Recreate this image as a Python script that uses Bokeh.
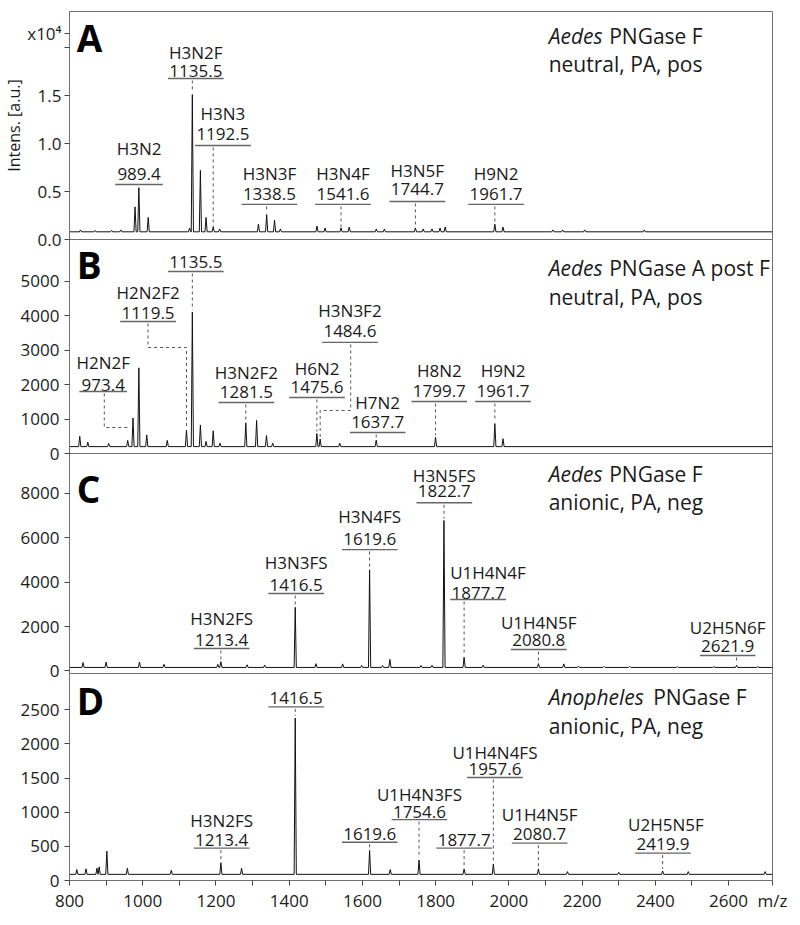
import math
from bokeh.plotting import figure
from bokeh.models import Range1d, FixedTicker, NumeralTickFormatter, BasicTickFormatter, Title
from bokeh.layouts import column
from bokeh.embed import file_html
from bokeh.resources import INLINE
from bokeh.core.properties import value

FONT = "Open Sans"
TXT = "#1a1a1a"
FRAME = "#707070"
X_START, X_END = 800, 2720

# ---------------- spectra (m/z, intensity) ----------------
A_mz = [830, 870, 915, 940, 979, 989.4, 1015, 1128, 1135.5, 1157.5, 1173, 1192.5, 1210,
        1316, 1338.5, 1360, 1376, 1476, 1498, 1541.6, 1564, 1638, 1660,
        1744.7, 1766, 1790, 1812, 1826, 1961.7, 1984, 2120, 2147, 2207, 2370]
A_int = [0.10, 0.095, 0.095, 0.10, 0.34, 0.54, 0.23, 0.12, 1.51, 0.72, 0.23, 0.13, 0.11,
         0.16, 0.26, 0.20, 0.11, 0.14, 0.12, 0.12, 0.13, 0.11, 0.11,
         0.12, 0.11, 0.11, 0.12, 0.13, 0.16, 0.13, 0.10, 0.10, 0.10, 0.10]
A_base = 0.08  # x10^4

B_mz = [828, 850, 907, 959, 973.4, 989.4, 1011, 1067, 1119.5, 1135.5, 1157.5, 1173, 1192.5,
        1211, 1281.5, 1311, 1338, 1355, 1475.6, 1484.6, 1538, 1637.7, 1799.7, 1961.7, 1984]
B_int = [500, 330, 290, 380, 1030, 2490, 540, 380, 680, 4110, 830, 350, 660,
         300, 890, 960, 520, 300, 580, 420, 300, 390, 470, 870, 430]
B_base = 200

C_mz = [837, 900, 991, 1058, 1205, 1213.4, 1285, 1333, 1416.5, 1473, 1546, 1598, 1619.6,
        1655, 1675, 1760, 1790, 1822.7, 1877.7, 1930, 2080.8, 2150, 2190, 2260, 2330,
        2460, 2560, 2621.9, 2680]
C_int = [380, 400, 400, 300, 300, 420, 280, 270, 2870, 330, 320, 250, 4560,
         250, 520, 250, 260, 6780, 620, 260, 330, 320, 220, 210, 210,
         200, 200, 260, 200]
C_base = 160

D_mz = [820, 845, 875, 881, 902, 958, 1078, 1213.4, 1270, 1416.5, 1619.6, 1676, 1754.6,
        1877.7, 1957.6, 2080.7, 2160, 2300, 2419.9, 2490, 2700]
D_int = [160, 170, 180, 200, 430, 180, 150, 260, 180, 2380, 440, 160, 300,
         170, 240, 170, 130, 120, 140, 130, 130]
D_base = 90

# ---------------- annotation texts ----------------
A_names = ["H3N2", "H3N2F", "H3N3", "H3N3F", "H3N4F", "H3N5F", "H9N2"]
A_labels = ["989.4", "1135.5", "1192.5", "1338.5", "1541.6", "1744.7", "1961.7"]
A_targets = [989.4, 1135.5, 1192.5, 1338.5, 1541.6, 1744.7, 1961.7]

B_names = ["H2N2F", "H2N2F2", "", "H3N2F2", "H6N2", "H3N3F2", "H7N2", "H8N2", "H9N2"]
B_labels = ["973.4", "1119.5", "1135.5", "1281.5", "1475.6", "1484.6", "1637.7", "1799.7", "1961.7"]
B_targets = [973.4, 1119.5, 1135.5, 1281.5, 1475.6, 1484.6, 1637.7, 1799.7, 1961.7]

C_names = ["H3N2FS", "H3N3FS", "H3N4FS", "H3N5FS", "U1H4N4F", "U1H4N5F", "U2H5N6F"]
C_labels = ["1213.4", "1416.5", "1619.6", "1822.7", "1877.7", "2080.8", "2621.9"]
C_targets = [1213.4, 1416.5, 1619.6, 1822.7, 1877.7, 2080.8, 2621.9]

D_names = ["", "H3N2FS", "", "U1H4N3FS", "", "U1H4N4FS", "U1H4N5F", "U2H5N5F"]
D_labels = ["1416.5", "1213.4", "1619.6", "1754.6", "1877.7", "1957.6", "2080.7", "2419.9"]
D_targets = [1416.5, 1213.4, 1619.6, 1754.6, 1877.7, 1957.6, 2080.7, 2419.9]

A_ticks = [0, 0.5, 1.0, 1.5, 2.0]
A_scale_tick = 2.146          # where the "x10⁴" multiplier sits
A_scale_text = "x10⁴"
B_ticks = [0, 1000, 2000, 3000, 4000, 5000]
C_ticks = [0, 2000, 4000, 6000, 8000]
D_ticks = [0, 500, 1000, 1500, 2000, 2500]
X_ticks = [800, 1000, 1200, 1400, 1600, 1800, 2000, 2200, 2400, 2600]
X_minor = [900, 1100, 1300, 1500, 1700, 1900, 2100, 2300, 2500]
X_unit = "m/z"
Y_title = "Intens. [a.u.]"

# ---------------- layout of annotations (data coordinates) ----------------
A_lay = dict(name_x=[990, 1145, 1219, 1346, 1547, 1750, 1965],
             num_x=[990, 1145, 1219, 1346, 1547, 1750, 1965],
             name_y=[0.948, 1.948, 1.3125, 0.6875, 0.6875, 0.719, 0.6875],
             num_y=[0.6875, 1.76, 1.104, 0.479, 0.479, 0.521, 0.479],
             ul_y=[0.573, 1.677, 0.979, 0.365, 0.365, 0.396, 0.365],
             dash_end=[0.56, 1.55, 0.125, 0.28, 0.125, 0.125, 0.18], gap=0.02)
B_lay = dict(name_x=[892, 1014.5, 1145, 1283, 1476, 1566, 1641.7, 1810, 1984],
             num_x=[892, 1014.5, 1145, 1283, 1476, 1566, 1641.7, 1810, 1984],
             name_y=[2645, 4680, 0, 2355, 2471, 4157, 1483, 2413, 2413],
             num_y=[1977, 4070, 5552, 1802, 1919, 3547, 930, 1831, 1831],
             ul_y=[1802, 3837, 5290, 1483, 1628, 3227, 610, 1512, 1512],
             dash_end=[0, 0, 4170, 950, 640, 0, 450, 530, 930], gap=58,
             elbows={0: ([895, 895, 963], [1744, 756, 756]),
                     1: ([1014.5, 1014.5, 1119.5, 1119.5], [3779, 3081, 3081, 740]),
                     5: ([1568, 1568, 1484.6, 1484.6], [3169, 1250, 1250, 480])})
C_lay = dict(name_x=[1215.4, 1419, 1620, 1823.6, 1943, 2081.6, 2597.5],
             num_x=[1215.4, 1419, 1620, 1823.6, 1916, 2081.6, 2597.5],
             name_y=[2365, 4888, 6960, 8800, 4437, 2185, 1960],
             num_y=[1374, 3897, 5969, 8110, 3536, 1374, 1104],
             ul_y=[1014, 3491, 5473, 7580, 3221, 969, 698],
             dash_end=[510, 2960, 4650, 6870, 710, 420, 350], gap=90)
D_lay = dict(name_x=[1419, 1215.4, 1620, 1755.8, 1878, 1962, 2084, 2429],
             num_x=[1419, 1215.4, 1620, 1755.8, 1878, 1962, 2084, 2421],
             name_y=[0, 877, 0, 1265, 0, 1882, 963, 819],
             num_y=[2673, 589, 675, 1006, 589, 1638, 675, 532],
             ul_y=[2543, 474, 560, 891, 474, 1509, 546, 402],
             dash_end=[2410, 290, 470, 330, 200, 270, 200, 170], gap=29)

PEAK_HW = 3.0
OVERLAP = 14
xr = Range1d(X_START, X_END)


def spectrum_path(mz, inten, base):
    order = sorted(range(len(mz)), key=lambda i: mz[i])
    xs, ys = [X_START], [base]
    for i in order:
        xs += [mz[i] - PEAK_HW, mz[i], mz[i] + PEAK_HW]
        ys += [base, inten[i], base]
    xs.append(X_END)
    ys.append(base)
    return xs, ys


def make_panel(frame_h, y0, y1, ticks, mbt, mbb, show_x, margin_top, z):
    p = figure(width=792, height=mbt + frame_h + mbb, x_range=xr, y_range=Range1d(y0, y1),
               output_backend="svg", toolbar_location=None,
               x_axis_location="below" if show_x else None,
               min_border_left=65, min_border_right=20,
               min_border_top=mbt, min_border_bottom=mbb)
    if margin_top:
        p.margin = (margin_top, 0, 0, 0)
    p.styles = {"z-index": str(z)}
    p.grid.visible = False
    p.outline_line_color = FRAME
    p.outline_line_width = 1
    p.border_fill_color = None
    p.background_fill_color = None
    ax = p.yaxis[0]
    ax.ticker = FixedTicker(ticks=ticks, minor_ticks=[])
    ax.major_tick_out = 5
    ax.major_tick_in = 0
    ax.axis_line_color = FRAME
    ax.major_tick_line_color = "#444444"
    ax.major_label_text_font = FONT
    ax.major_label_text_font_size = "17px"
    ax.major_label_text_color = TXT
    ax.major_label_standoff = 5
    if show_x:
        xa = p.xaxis[0]
        xa.ticker = FixedTicker(ticks=X_ticks + [X_END], minor_ticks=X_minor)
        xa.formatter = BasicTickFormatter(use_scientific=False)
        xa.major_label_overrides = {X_END: X_unit}
        xa.major_tick_out = 5
        xa.major_tick_in = 0
        xa.minor_tick_out = 5
        xa.minor_tick_in = 0
        xa.axis_line_color = FRAME
        xa.major_tick_line_color = "#444444"
        xa.minor_tick_line_color = "#444444"
        xa.major_label_text_font = FONT
        xa.major_label_text_font_size = "17px"
        xa.major_label_text_color = TXT
        xa.major_label_standoff = 3
    return p


def draw_spectrum(p, mz, inten, base):
    xs, ys = spectrum_path(mz, inten, base)
    p.line(xs, ys, line_color="#111111", line_width=1)


def annotate(p, names, labels, targets, lay):
    nx = [lay["name_x"][i] for i, n in enumerate(names) if n]
    ny = [lay["name_y"][i] for i, n in enumerate(names) if n]
    nt = [n for n in names if n]
    p.text(x=nx, y=ny, text=nt, text_font=value(FONT), text_font_size="17px",
           text_color=TXT, text_align="center", text_baseline="middle")
    p.text(x=lay["num_x"], y=lay["num_y"], text=labels, text_font=value(FONT),
           text_font_size="17px", text_color=TXT, text_align="center", text_baseline="middle")
    half = [65 if len(t) <= 5 else 76 for t in labels]
    p.segment(x0=[x - h for x, h in zip(lay["num_x"], half)], y0=lay["ul_y"],
              x1=[x + h for x, h in zip(lay["num_x"], half)], y1=lay["ul_y"],
              line_color="#666666", line_width=1.3)
    elbows = lay.get("elbows", {})
    xs, ys = [], []
    for i, t in enumerate(targets):
        if i in elbows:
            xs.append(elbows[i][0])
            ys.append(elbows[i][1])
        else:
            top = lay["ul_y"][i] - lay["gap"]
            bot = lay["dash_end"][i]
            if top > bot:
                xs.append([t, t])
                ys.append([top, bot])
    p.multi_line(xs, ys, line_color="#555555", line_width=1, line_dash="3 3")


def letter(p, txt, y):
    p.text(x=[819.5], y=[y], text=[txt], text_font=value(FONT), text_font_size="37px",
           text_font_style="bold", text_color="#000000", text_align="left", text_baseline="middle")


def condition(p, species, rest, line2, y1, y2, rest_x):
    p.text(x=[2108.7], y=[y1], text=[species], text_font=value(FONT), text_font_size="21px",
           text_font_style="italic", text_color=TXT, text_align="left", text_baseline="middle")
    p.text(x=[rest_x], y=[y1], text=[rest], text_font=value(FONT), text_font_size="21px",
           text_color=TXT, text_align="left", text_baseline="middle")
    p.text(x=[2108.7], y=[y2], text=[line2], text_font=value(FONT), text_font_size="21px",
           text_color=TXT, text_align="left", text_baseline="middle")


# ---- Panel A ----
pA = make_panel(228, 0, 2.375, A_ticks + [A_scale_tick], 11, OVERLAP, False, 0, 4)
pA.yaxis[0].formatter = NumeralTickFormatter(format="0.0")
pA.yaxis[0].major_label_overrides = {2.0: "", A_scale_tick: A_scale_text}
pA.yaxis[0].major_label_standoff = 3
draw_spectrum(pA, A_mz, A_int, A_base)
annotate(pA, A_names, A_labels, A_targets, A_lay)
letter(pA, "A", 2.104)
condition(pA, "Aedes", "PNGase F", "neutral, PA, pos", 2.125, 1.833, 2274)
pA.add_layout(Title(text=Y_title, align="center", offset=20, standoff=0,
                    text_font=FONT, text_font_size="16px", text_font_style="normal",
                    text_color=TXT), "left")

# ---- Panel B ----
pB = make_panel(214, 0, 6220, B_ticks, OVERLAP, OVERLAP, False, -2 * OVERLAP, 3)
draw_spectrum(pB, B_mz, B_int, B_base)
annotate(pB, B_names, B_labels, B_targets, B_lay)
letter(pB, "B", 5494)
condition(pB, "Aedes", "PNGase A post F", "neutral, PA, pos", 5378, 4535, 2274)

# ---- Panel C ----
pC = make_panel(220, -113, 9800, C_ticks, OVERLAP, OVERLAP, False, -2 * OVERLAP, 2)
draw_spectrum(pC, C_mz, C_int, C_base)
annotate(pC, C_names, C_labels, C_targets, C_lay)
letter(pC, "C", 8222)
condition(pC, "Aedes", "PNGase F", "anionic, PA, neg", 8897, 7636, 2274)

# ---- Panel D ----
pD = make_panel(211, 0, 3032, D_ticks, OVERLAP, 30, True, -2 * OVERLAP, 1)
draw_spectrum(pD, D_mz, D_int, D_base)
annotate(pD, D_names, D_labels, D_targets, D_lay)
letter(pD, "D", 2630)
condition(pD, "Anopheles", "PNGase F", "anionic, PA, neg", 2687, 2270, 2394)

layout = column(pA, pB, pC, pD, spacing=0)
open("out.html", "w").write(file_html(layout, INLINE))
